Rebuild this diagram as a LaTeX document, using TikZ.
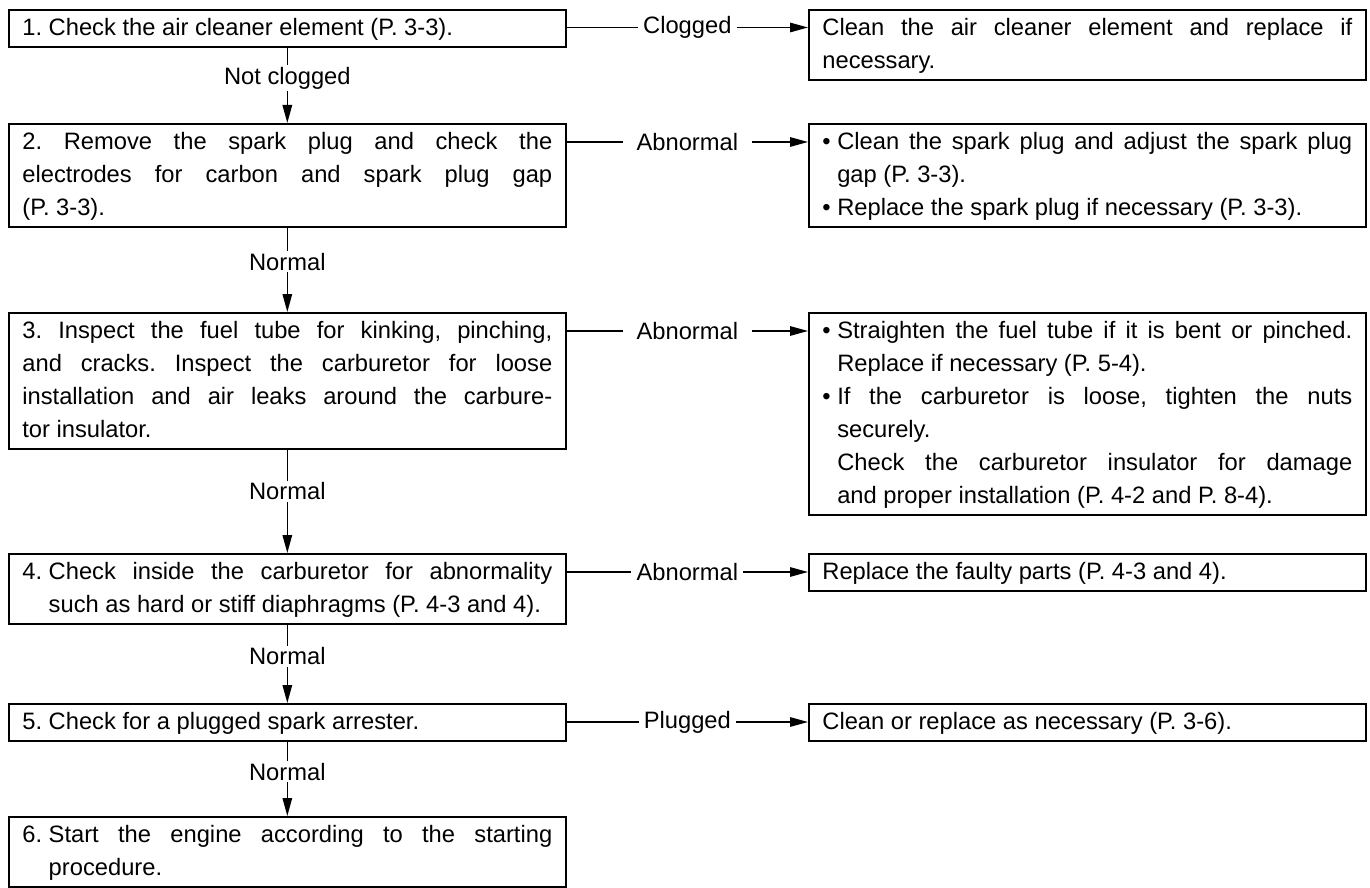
\documentclass[tikz,border=0pt]{standalone}
\usepackage{fontspec}
\setmainfont{Liberation Sans}
\usetikzlibrary{arrows.meta}
\setlength{\parindent}{0pt}
\frenchspacing
\newlength{\hangw}
\newcommand{\hangitem}[1]{\leavevmode\settowidth{\hangw}{#1\ }\hangindent=\hangw\hangafter=1 \makebox[\hangw][l]{#1}}
\newcommand{\itemend}{\strut\par}
\newcommand{\boxend}{\ifhmode\strut\par\fi}

\begin{document}
\begin{tikzpicture}[x=0.02cm,y=-0.02cm,
  stepbox/.style={draw,line width=1pt,anchor=north west,text width=10.6cm,align=justify,
    inner xsep=0.27cm,inner ysep=1.2pt,font=\fontsize{13.5pt}{18.8pt}\selectfont,
    execute at begin node=\strut,execute at end node=\boxend},
  flow/.style={line width=0.8pt,-{Triangle[length=0.36cm,width=0.19cm]}},
  lab/.style={fill=white,inner xsep=3pt,inner ysep=1pt,font=\fontsize{13.5pt}{15pt}\selectfont},
  vlab/.style={lab,pos=0.4}]
\useasboundingbox (0,0) rectangle (1370,888);

\node[stepbox] (s1) at (8,9) {1. Check the air cleaner element (P. 3-3).};
\node[stepbox] (s2) at (8,123) {2. Remove the spark plug and check the\linebreak
  electrodes for carbon and spark plug gap\linebreak (P. 3-3).};
\node[stepbox] (s3) at (8,312) {3. Inspect the fuel tube for kinking, pinching,\linebreak
  and cracks. Inspect the carburetor for loose\linebreak
  installation and air leaks around the carbure-\linebreak tor insulator.};
\node[stepbox] (s4) at (8,553) {\hangitem{4.}Check inside the carburetor for abnormality\linebreak
  such as hard or stiff diaphragms (P. 4-3 and 4).\itemend};
\node[stepbox] (s5) at (8,703) {5. Check for a plugged spark arrester.};
\node[stepbox] (s6) at (8,816) {\hangitem{6.}Start the engine according to the starting\linebreak procedure.\itemend};

\node[stepbox] (r1) at (808,9) {Clean the air cleaner element and replace if\linebreak necessary.};
\node[stepbox] (r2) at (808,123) {\hangitem{\textbullet}Clean the spark plug and adjust the spark plug\linebreak
  gap (P. 3-3).\par
  \hangitem{\textbullet}Replace the spark plug if necessary (P. 3-3).\itemend};
\node[stepbox] (r3) at (808,312) {\hangitem{\textbullet}Straighten the fuel tube if it is bent or pinched.\linebreak
  Replace if necessary (P. 5-4).\par
  \hangitem{\textbullet}If the carburetor is loose, tighten the nuts\linebreak
  securely.\hfil\break
  Check the carburetor insulator for damage\linebreak
  and proper installation (P. 4-2 and P. 8-4).\itemend};
\node[stepbox] (r4) at (808,553) {Replace the faulty parts (P. 4-3 and 4).};
\node[stepbox] (r5) at (808,703) {Clean or replace as necessary (P. 3-6).};

\draw[flow] ([yshift=-0.37cm]s1.north east) -- node[lab]{Clogged} ([yshift=-0.37cm]r1.north west);
\draw[flow] ([yshift=-0.38cm]s2.north east) -- node[lab,inner xsep=8pt]{Abnormal} ([yshift=-0.38cm]r2.north west);
\draw[flow] ([yshift=-0.38cm]s3.north east) -- node[lab,inner xsep=8pt]{Abnormal} ([yshift=-0.38cm]r3.north west);
\draw[flow] ([yshift=-0.38cm]s4.north east) -- node[lab]{Abnormal} ([yshift=-0.38cm]r4.north west);
\draw[flow] ([yshift=-0.38cm]s5.north east) -- node[lab]{Plugged} ([yshift=-0.38cm]r5.north west);

\draw[flow] (s1.south) -- node[vlab]{Not clogged} (s2.north);
\draw[flow] (s2.south) -- node[vlab]{Normal} (s3.north);
\draw[flow] (s3.south) -- node[vlab]{Normal} (s4.north);
\draw[flow] (s4.south) -- node[vlab]{Normal} (s5.north);
\draw[flow] (s5.south) -- node[vlab]{Normal} (s6.north);
\end{tikzpicture}
\end{document}
